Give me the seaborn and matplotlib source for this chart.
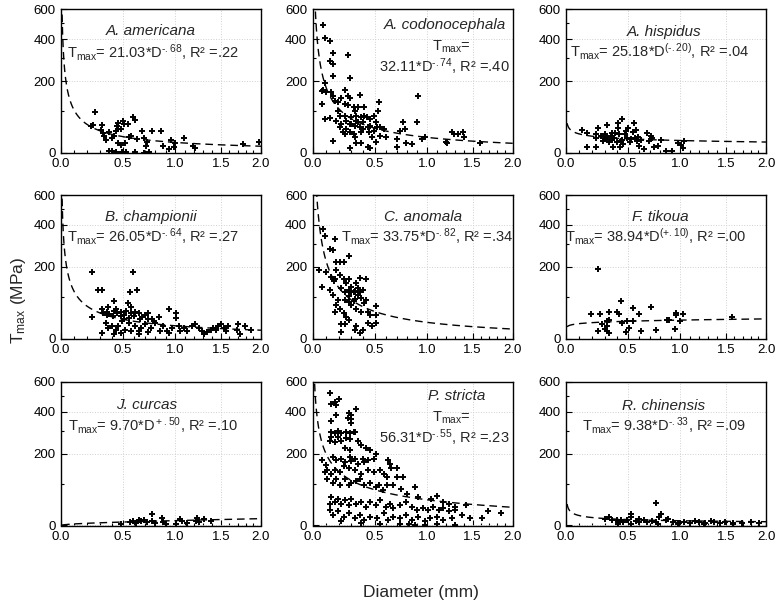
import numpy as np
import matplotlib
matplotlib.use("Agg")
import matplotlib.pyplot as plt
import seaborn as sns

# ---- data: (diameter mm, Tmax MPa) ----
americana = [(0.26, 96), (0.23, 59), (0.25, 62), (0.32, 61), (0.31, 49), (0.33, 42), (0.34, 36),
             (0.35, 27), (0.38, 44), (0.40, 31), (0.42, 36), (0.44, 48), (0.45, 60), (0.46, 66),
             (0.46, 51), (0.48, 51), (0.50, 73), (0.51, 63), (0.54, 63), (0.55, 34), (0.46, 20),
             (0.48, 15), (0.52, 19), (0.59, 82), (0.61, 75), (0.57, 36), (0.63, 29), (0.67, 48),
             (0.69, 31), (0.71, 13), (0.72, 22), (0.74, 2), (0.77, 48), (0.85, 48), (0.87, 13),
             (0.95, 27), (0.93, 7), (0.98, 12), (0.99, 19), (1.09, 31), (1.18, 13), (1.21, 9),
             (1.77, 17), (1.97, 22), (0.38, 4), (0.40, 4), (0.44, 2), (0.49, 2), (0.53, 2),
             (0.61, 2), (0.69, 0)]
codonocephala = [(0.08, 485), (0.09, 406), (0.13, 389), (0.13, 284), (0.15, 270), (0.15, 324),
                 (0.15, 220), (0.27, 312), (0.29, 210), (0.09, 194), (0.08, 168), (0.07, 163),
                 (0.10, 160), (0.14, 160), (0.15, 147), (0.07, 120), (0.17, 131), (0.19, 126),
                 (0.22, 141), (0.25, 166), (0.27, 147), (0.29, 141), (0.25, 120), (0.27, 118),
                 (0.37, 150), (0.09, 77), (0.13, 80), (0.15, 25), (0.21, 86), (0.22, 64), (0.25, 86),
                 (0.26, 51), (0.23, 44), (0.29, 44), (0.30, 64), (0.30, 82), (0.33, 100), (0.34, 86),
                 (0.36, 69), (0.37, 56), (0.38, 44), (0.40, 69), (0.41, 86), (0.43, 82), (0.44, 56),
                 (0.45, 44), (0.46, 60), (0.48, 32), (0.49, 48), (0.51, 69), (0.52, 56), (0.53, 100),
                 (0.54, 126), (0.55, 56), (0.58, 51), (0.60, 32), (0.33, 32), (0.34, 19), (0.29, 9),
                 (0.44, 12), (0.46, 9), (0.38, 19), (0.51, 22), (0.55, 36), (0.70, 29), (0.70, 12),
                 (0.73, 48), (0.76, 69), (0.78, 51), (0.79, 19), (0.85, 17), (0.90, 69), (0.91, 147),
                 (0.95, 29), (0.98, 32), (1.20, 22), (1.21, 19), (1.26, 44), (1.29, 40), (1.33, 40),
                 (1.39, 44), (1.40, 32), (1.59, 19), (0.19, 100), (0.32, 112), (0.36, 112),
                 (0.38, 82), (0.41, 112), (0.26, 73), (0.34, 73), (0.46, 77), (0.49, 86), (0.40, 51),
                 (0.33, 60), (0.29, 64), (0.21, 56), (0.18, 73), (0.25, 40), (0.32, 40)]
hispidus = [(0.12, 50), (0.16, 43), (0.16, 12), (0.23, 12), (0.23, 39), (0.23, 31), (0.25, 53),
            (0.27, 36), (0.29, 25), (0.30, 40), (0.32, 61), (0.32, 31), (0.34, 21), (0.36, 26),
            (0.36, 42), (0.37, 11), (0.38, 31), (0.41, 67), (0.41, 55), (0.40, 23), (0.42, 39),
            (0.43, 12), (0.45, 76), (0.45, 26), (0.47, 39), (0.49, 31), (0.50, 53), (0.52, 21),
            (0.54, 45), (0.55, 67), (0.56, 31), (0.57, 50), (0.59, 32), (0.60, 14), (0.62, 26),
            (0.64, 7), (0.67, 42), (0.69, 25), (0.71, 36), (0.72, 30), (0.74, 12), (0.78, 14),
            (0.81, 26), (0.85, 3), (0.91, 4), (0.97, 19), (1.01, 16), (1.03, 9), (1.04, 24),
            (0.30, 28), (0.35, 36), (0.44, 25), (0.48, 46), (0.53, 28), (0.58, 25), (0.46, 18),
            (0.39, 42)]
championii = [(0.24, 180), (0.59, 180), (0.29, 119), (0.32, 118), (0.56, 112), (0.63, 119),
              (0.42, 88), (0.54, 81), (0.93, 67), (0.24, 46), (0.33, 55), (0.36, 58), (0.38, 53),
              (0.42, 60), (0.45, 55), (0.48, 58), (0.51, 51), (0.53, 60), (0.57, 55), (0.60, 48),
              (0.64, 56), (0.67, 47), (0.70, 51), (0.73, 55), (0.77, 41), (0.83, 47), (0.35, 33),
              (0.37, 22), (0.40, 26), (0.44, 18), (0.46, 25), (0.49, 36), (0.52, 18), (0.55, 33),
              (0.57, 15), (0.61, 25), (0.64, 15), (0.66, 22), (0.70, 31), (0.73, 13), (0.76, 22),
              (0.80, 33), (0.84, 15), (0.87, 25), (0.93, 11), (0.96, 22), (1.04, 25), (1.05, 15),
              (1.01, 55), (1.01, 44), (1.09, 22), (1.12, 15), (1.17, 25), (1.21, 29), (1.25, 22),
              (1.28, 15), (1.31, 8), (1.34, 13), (1.38, 18), (1.41, 22), (1.44, 17), (1.47, 25),
              (1.50, 29), (1.54, 22), (1.56, 15), (1.59, 25), (1.69, 18), (1.79, 25), (1.87, 18),
              (1.73, 8), (1.71, 29), (0.32, 67), (0.36, 51), (0.37, 72), (0.41, 48), (0.44, 67),
              (0.48, 48), (0.51, 41), (0.55, 44), (0.57, 72), (0.61, 58), (0.65, 41), (0.73, 42),
              (0.79, 37), (0.91, 15), (0.32, 11), (0.42, 8), (0.48, 11), (0.64, 8)]
anomala = [(0.08, 375), (0.09, 340), (0.13, 277), (0.15, 270), (0.17, 323), (0.18, 218),
           (0.21, 218), (0.24, 218), (0.28, 242), (0.05, 188), (0.10, 180), (0.14, 163),
           (0.16, 149), (0.17, 156), (0.07, 130), (0.13, 119), (0.15, 103), (0.18, 186),
           (0.21, 169), (0.24, 154), (0.26, 142), (0.28, 154), (0.30, 130), (0.33, 115),
           (0.37, 159), (0.42, 154), (0.22, 125), (0.25, 112), (0.28, 102), (0.32, 113),
           (0.36, 103), (0.38, 97), (0.41, 83), (0.42, 91), (0.18, 77), (0.21, 67), (0.24, 55),
           (0.26, 47), (0.17, 59), (0.19, 91), (0.30, 77), (0.34, 67), (0.38, 59), (0.44, 59),
           (0.46, 51), (0.51, 75), (0.51, 51), (0.22, 29), (0.25, 29), (0.22, 13), (0.28, 40),
           (0.33, 18), (0.34, 25), (0.37, 11), (0.40, 18), (0.44, 33), (0.48, 25), (0.51, 33),
           (0.28, 119), (0.30, 112), (0.33, 94), (0.36, 125), (0.28, 85), (0.32, 88),
           (0.37, 112), (0.40, 119), (0.25, 91), (0.34, 142)]
tikoua = [(0.25, 192), (0.44, 88), (0.54, 69), (0.71, 72), (0.19, 53), (0.26, 53), (0.34, 59),
          (0.40, 58), (0.42, 54), (0.60, 53), (0.95, 57), (0.95, 52), (1.03, 54), (1.57, 45),
          (0.28, 30), (0.32, 36), (0.34, 40), (0.25, 16), (0.30, 19), (0.32, 25), (0.34, 10),
          (0.32, 15), (0.45, 33), (0.49, 36), (0.48, 13), (0.51, 22), (0.54, 36), (0.62, 15),
          (0.76, 17), (0.86, 38), (0.88, 38), (0.94, 20), (1.00, 36)]
curcas = [(0.77, 24), (0.86, 16), (1.23, 16), (1.31, 13), (1.05, 12), (0.48, 3), (0.56, 6),
          (0.59, 8), (0.62, 5), (0.64, 10), (0.66, 8), (0.69, 11), (0.72, 6), (0.77, 8),
          (0.80, 5), (0.87, 6), (0.90, 3), (1.01, 3), (1.07, 8), (1.12, 5), (1.22, 8), (1.25, 6),
          (1.38, 8)]
stricta = [(0.13, 522), (0.14, 445), (0.17, 461), (0.20, 478), (0.18, 440), (0.28, 393),
           (0.30, 383), (0.34, 418), (0.27, 366), (0.30, 357), (0.30, 340), (0.14, 349),
           (0.18, 383), (0.14, 293), (0.17, 290), (0.19, 296), (0.22, 291), (0.26, 294),
           (0.29, 289), (0.32, 295), (0.33, 292), (0.14, 270), (0.19, 268), (0.26, 265),
           (0.29, 260), (0.36, 254), (0.38, 234), (0.42, 221), (0.46, 215), (0.13, 254),
           (0.17, 248), (0.22, 252), (0.25, 221), (0.29, 213), (0.07, 177), (0.10, 159),
           (0.15, 186), (0.18, 175), (0.22, 180), (0.25, 169), (0.29, 186), (0.30, 172),
           (0.33, 180), (0.36, 163), (0.41, 169), (0.44, 175), (0.51, 199), (0.49, 180),
           (0.40, 182), (0.09, 135), (0.11, 141), (0.14, 130), (0.17, 141), (0.21, 135),
           (0.24, 154), (0.28, 149), (0.33, 141), (0.38, 130), (0.44, 141), (0.49, 135),
           (0.55, 141), (0.58, 130), (0.62, 175), (0.64, 163), (0.65, 149), (0.70, 149),
           (0.61, 119), (0.70, 119), (0.76, 119), (0.11, 112), (0.15, 102), (0.18, 112),
           (0.21, 97), (0.25, 112), (0.28, 97), (0.30, 102), (0.34, 107), (0.37, 112),
           (0.41, 97), (0.46, 102), (0.51, 91), (0.54, 97), (0.57, 81), (0.61, 97), (0.67, 97),
           (0.74, 85), (0.80, 72), (0.88, 91), (0.91, 63), (1.04, 59), (1.10, 67), (1.17, 51),
           (1.23, 47), (1.30, 40), (1.42, 44), (1.69, 29), (1.85, 25), (0.13, 47), (0.14, 63),
           (0.17, 51), (0.19, 59), (0.22, 47), (0.25, 55), (0.28, 44), (0.30, 59), (0.34, 47),
           (0.38, 51), (0.42, 40), (0.46, 51), (0.51, 44), (0.55, 55), (0.60, 40), (0.64, 47),
           (0.67, 36), (0.73, 44), (0.79, 51), (0.85, 40), (0.90, 33), (0.96, 36), (1.01, 33),
           (1.06, 40), (1.12, 33), (1.17, 36), (1.23, 29), (1.30, 33), (0.13, 33), (0.15, 22),
           (0.19, 29), (0.24, 18), (0.28, 25), (0.33, 15), (0.37, 22), (0.41, 11), (0.46, 18),
           (0.52, 15), (0.58, 25), (0.62, 11), (0.67, 18), (0.73, 15), (0.79, 22), (0.85, 11),
           (0.91, 18), (0.98, 8), (1.03, 15), (1.10, 18), (1.17, 11), (1.26, 15), (1.38, 22),
           (1.47, 15), (1.61, 15), (0.22, 8), (0.38, 5), (0.55, 3), (0.73, 3), (0.82, 3),
           (0.88, 1.5), (0.98, 1.5), (1.10, 3), (1.30, 1.5)]
chinensis = [(0.76, 48), (0.53, 24), (0.53, 17), (0.79, 17), (0.81, 24), (0.87, 13), (0.34, 17),
             (0.40, 11), (0.36, 10), (0.41, 7), (0.44, 10), (0.46, 7), (0.49, 11), (0.57, 9),
             (0.60, 7), (0.64, 10), (0.67, 7), (0.72, 9), (0.76, 7), (0.92, 7), (0.98, 5),
             (1.04, 7), (1.10, 5), (1.15, 9), (1.20, 7), (1.26, 5), (1.33, 9), (1.36, 7),
             (1.43, 5), (1.49, 7), (1.59, 5), (1.69, 5), (1.80, 7), (1.91, 5), (0.41, 3),
             (0.53, 2), (0.78, 2), (0.97, 2), (1.25, 2), (1.58, 2), (0.85, 10), (0.60, 13),
             (0.30, 13)]

species = ["A. americana", "A. codonocephala", "A. hispidus",
           "B. championii", "C. anomala", "F. tikoua",
           "J. curcas", "P. stricta", "R. chinensis"]
points = [americana, codonocephala, hispidus, championii, anomala, tikoua,
          curcas, stricta, chinensis]
fit_a = [21.03, 32.11, 25.18, 26.05, 33.75, 38.94, 9.70, 56.31, 9.38]
fit_b = [-0.68, -0.74, -0.20, -0.64, -0.82, 0.10, 0.50, -0.55, -0.33]
# exponent shown with a plain hyphen (U+2010), as in the original
equations = [
    "T$_{\\rm max}$= 21.03*D$^{\\rm \u2010.68}$, R² =.22",
    "32.11*D$^{\\rm \u2010.74}$, R² =.40",
    "T$_{\\rm max}$= 25.18*D$^{\\rm (\u2010.20)}$, R² =.04",
    "T$_{\\rm max}$= 26.05*D$^{\\rm \u2010.64}$, R² =.27",
    "T$_{\\rm max}$= 33.75*D$^{\\rm \u2010.82}$, R² =.34",
    "T$_{\\rm max}$= 38.94*D$^{\\rm (+.10)}$, R² =.00",
    "T$_{\\rm max}$= 9.70*D$^{\\rm +.50}$, R² =.10",
    "56.31*D$^{\\rm \u2010.55}$, R² =.23",
    "T$_{\\rm max}$= 9.38*D$^{\\rm \u2010.33}$, R² =.09",
]

sns.set_style("ticks")
plt.rcParams["font.family"] = ["Liberation Sans", "DejaVu Sans"]
plt.rcParams["mathtext.fontset"] = "custom"
plt.rcParams["mathtext.rm"] = "Liberation Sans"
plt.rcParams["mathtext.it"] = "Liberation Sans:italic"


# both axes of the original are compressed towards large values
def y_fwd(v):
    v = np.asarray(v, dtype=float)
    return np.log10(np.clip(v, -199, None) + 200)


def y_inv(v):
    return 10 ** np.asarray(v, dtype=float) - 200


def x_fwd(v):
    v = np.asarray(v, dtype=float)
    return np.log10(np.clip(v, -2.4, None) + 2.5)


def x_inv(v):
    return 10 ** np.asarray(v, dtype=float) - 2.5


W, H = 777, 607
fig = plt.figure(figsize=(W / 100, H / 100), dpi=100)

col_left = [61, 312.7, 566]
row_top = [9.3, 195, 382]
ax_w, ax_h = 200, 143.5

# text placement (axes fraction): name, equation
name_pos = [(0.45, 0.85), (0.66, 0.89), (0.49, 0.845), (0.45, 0.845), (0.55, 0.845),
            (0.47, 0.845), (0.43, 0.84), (0.72, 0.90), (0.49, 0.835)]
eq_pos = [(0.46, 0.70), (0.66, 0.60), (0.47, 0.705), (0.46, 0.71), (0.57, 0.71),
          (0.45, 0.71), (0.46, 0.70), (0.66, 0.61), (0.49, 0.70)]

for i in range(9):
    r, c = divmod(i, 3)
    rect = [col_left[c] / W, 1 - (row_top[r] + ax_h) / H, ax_w / W, ax_h / H]
    ax = fig.add_axes(rect)
    ax.set_yscale("function", functions=(y_fwd, y_inv))
    ax.set_xscale("function", functions=(x_fwd, x_inv))

    d = [p[0] for p in points[i]]
    t = [p[1] for p in points[i]]
    sns.scatterplot(x=d, y=t, marker="+", color="black", s=15, linewidth=1.4, ax=ax, zorder=3)

    dd = np.geomspace(0.008, 2.0, 400)
    ax.plot(dd, fit_a[i] * dd ** fit_b[i], color="black", lw=1.0, dashes=(5.5, 3.5), zorder=2)

    ax.set_xlim(0, 2.0)
    ax.set_ylim(0, 600)
    ax.set_xticks([0, 0.5, 1.0, 1.5, 2.0])
    ax.set_xticklabels(["0.0", "0.5", "1.0", "1.5", "2.0"])
    ax.set_xticks(np.arange(0, 2.01, 0.1), minor=True)
    ax.set_yticks([0, 200, 400, 600])
    ax.set_yticklabels(["0", "200", "400", "600"])
    ax.set_yticks([100, 300, 500], minor=True)
    ax.tick_params(which="both", direction="in", labelsize=9.5, width=0.8, colors="black")
    ax.tick_params(which="major", length=4, pad=4)
    ax.tick_params(which="minor", length=2)
    ax.grid(True, which="major", color="#d0d0d0", linestyle=":", linewidth=0.7)
    for s in ax.spines.values():
        s.set_linewidth(1.0)
        s.set_color("black")
    ax.set_xlabel("")
    ax.set_ylabel("")

    ax.text(*name_pos[i], species[i], transform=ax.transAxes, ha="center", va="center",
            fontsize=11, style="italic")
    if i in (1, 7):
        ax.text(eq_pos[i][0] + 0.035, eq_pos[i][1] + 0.14, r"T$_{\rm max}$=",
                transform=ax.transAxes, ha="center", va="center", fontsize=10.5)
    ax.text(*eq_pos[i], equations[i], transform=ax.transAxes, ha="center", va="center",
            fontsize=10.5)

fig.text(421 / W, 1 - 593 / H, "Diameter (mm)", ha="center", va="center", fontsize=12.5)
fig.text(19 / W, 1 - 300 / H, r"T$_{\rm max}$ (MPa)", ha="center", va="center",
         rotation=90, fontsize=12.5)

fig.savefig("out.png", dpi=100)
